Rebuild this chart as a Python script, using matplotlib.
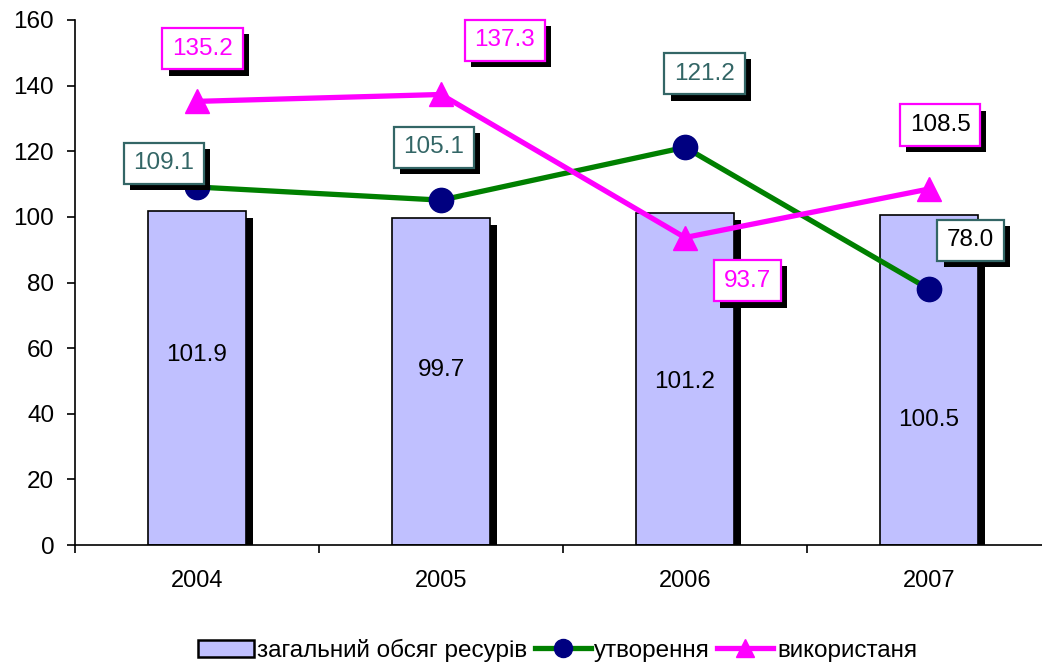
import matplotlib
matplotlib.use("Agg")
import matplotlib.pyplot as plt
import matplotlib.patheffects as pe
from matplotlib.patches import Patch
from matplotlib.lines import Line2D
import numpy as np

plt.rcParams['font.family'] = ['Liberation Sans', 'DejaVu Sans']

years = ['2004', '2005', '2006', '2007']
total = [101.9, 99.7, 101.2, 100.5]
formation = [109.1, 105.1, 121.2, 78.0]
usage = [135.2, 137.3, 93.7, 108.5]

# label placement (offsets in points, text colours)
total_label_y = [57.9, 53.4, 49.7, 38.1]
form_off = [(-24, 17), (-5, 38), (14, 53), (30, 35)]
form_txt = ['#336666', '#336666', '#336666', 'black']
use_off = [(4, 38), (46, 39), (45, -31), (8, 46)]
use_txt = ['#FF00FF', '#FF00FF', '#FF00FF', 'black']

fig = plt.figure(figsize=(10.42, 6.66), dpi=100)
ax = fig.add_axes([75 / 1042, 1 - 545 / 666, 976 / 1042, 525 / 666])

x = np.arange(len(years))
shadow = [pe.SimplePatchShadow(offset=(5, -5), shadow_rgbFace='black', alpha=1.0), pe.Normal()]
bars = ax.bar(x, total, width=0.4, color='#C0C0FF', edgecolor='black', linewidth=1.2, zorder=2)
for b in bars:
    b.set_path_effects(shadow)
for xi, yl, v in zip(x, total_label_y, total):
    ax.text(xi, yl, f'{v:.1f}', ha='center', va='center', fontsize=17.5, color='black', zorder=3)

ax.plot(x, formation, color='#008000', lw=3.8, marker='o', ms=17.5,
        mfc='#000080', mec='#000080', zorder=4, label='утворення')
ax.plot(x, usage, color='#FF00FF', lw=3.8, marker='^', ms=17,
        mfc='#FF00FF', mec='#FF00FF', zorder=4, label='використаня')

def box_label(xi, yi, v, off, tc, ec):
    t = ax.annotate(f'{v:.1f}', (xi, yi), xytext=off, textcoords='offset points',
                    ha='center', va='center', fontsize=17.5, color=tc, zorder=6,
                    bbox=dict(boxstyle='square,pad=0.4', fc='white', ec=ec, lw=1.6))
    t.get_bbox_patch().set_path_effects(
        [pe.SimplePatchShadow(offset=(4.5, -4.5), shadow_rgbFace='black', alpha=1.0), pe.Normal()])

for xi, v, off, tc in zip(x, formation, form_off, form_txt):
    box_label(xi, v, v, off, tc, '#336666')
for xi, v, off, tc in zip(x, usage, use_off, use_txt):
    box_label(xi, v, v, off, tc, '#FF00FF')

ax.set_xlim(-0.5, 3.5)
ax.set_ylim(0, 160)
ax.set_yticks(np.arange(0, 161, 20))
ax.tick_params(axis='y', labelsize=17.5, direction='out', length=6, width=1.2, pad=9)
ax.set_xticks(x)
ax.set_xticklabels(years)
ax.set_xticks(np.arange(-0.5, 3.6, 1.0), minor=True)
ax.tick_params(axis='x', which='major', length=0, labelsize=17, pad=18)
ax.tick_params(axis='x', which='minor', length=6, width=1.2, direction='out')
for s in ['top', 'right']:
    ax.spines[s].set_visible(False)
ax.spines['left'].set_linewidth(1.2)
ax.spines['bottom'].set_linewidth(1.2)

handles = [Patch(fc='#C0C0FF', ec='black', lw=1.8, label='загальний обсяг ресурів'),
           Line2D([], [], color='#008000', lw=3.8, marker='o', ms=13, mfc='#000080', mec='#000080', label='утворення'),
           Line2D([], [], color='#FF00FF', lw=3.8, marker='^', ms=13, mfc='#FF00FF', mec='#FF00FF', label='використаня')]
fig.legend(handles=handles, loc='center', bbox_to_anchor=(0.535, 0.024), ncol=3, frameon=False,
           fontsize=17.5, handlelength=2.3, handletextpad=0.15, columnspacing=0.3)

fig.savefig('out.png', dpi=100)
